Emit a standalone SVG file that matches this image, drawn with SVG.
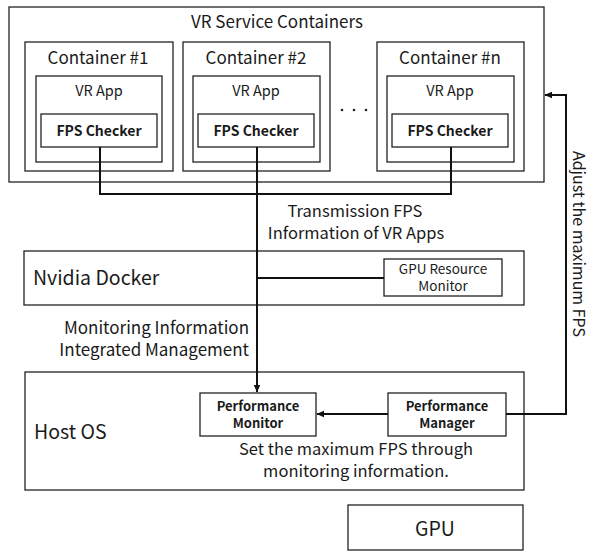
<svg xmlns="http://www.w3.org/2000/svg" width="590" height="555" viewBox="0 0 590 555">
  <defs>
    <style>
      .box { fill: #ffffff; stroke: #222222; stroke-width: 1.3; }
      .wire { fill: none; stroke: #111111; stroke-width: 2; }
      text { font-family: "Noto Sans CJK KR", "Noto Sans", sans-serif; fill: #1a1a1a; }
      .t17 { font-size: 17px; }
      .t15 { font-size: 14.5px; }
      .lbl { font-size: 16.5px; }
      .t20 { font-size: 19.5px; }
      .bold { font-size: 14px; font-weight: bold; }
      .pm { font-size: 13px; font-weight: bold; }
      .small { font-size: 13.5px; }
      .side { font-size: 16px; }
      .mid { text-anchor: middle; }
    </style>
    <marker id="arrow" markerWidth="8" markerHeight="8" refX="7" refY="4" orient="auto" markerUnits="userSpaceOnUse">
      <path d="M0,0.8 L7.5,4 L0,7.2 Z" fill="#111111"/>
    </marker>
  </defs>

  <rect width="590" height="555" fill="#ffffff"/>

  <!-- outer group of VR containers -->
  <g id="vr-service-containers">
    <rect class="box" x="9" y="7" width="535" height="175"/>
    <text class="t17 mid" x="277" y="28">VR Service Containers</text>
  </g>

  <g id="container-1">
    <rect class="box" x="25" y="42" width="148" height="129"/>
    <text class="t17 mid" x="98" y="64">Container #1</text>
    <rect class="box" x="36" y="76" width="126" height="86"/>
    <text class="t15 mid" x="99" y="96">VR App</text>
    <rect class="box" x="41" y="114" width="116" height="33"/>
    <text class="bold mid" x="99" y="136">FPS Checker</text>
  </g>

  <g id="container-2">
    <rect class="box" x="183" y="42" width="147" height="129"/>
    <text class="t17 mid" x="256" y="64">Container #2</text>
    <rect class="box" x="193" y="76" width="127" height="86"/>
    <text class="t15 mid" x="256" y="96">VR App</text>
    <rect class="box" x="198" y="114" width="116" height="33"/>
    <text class="bold mid" x="256" y="136">FPS Checker</text>
  </g>

  <g id="ellipsis">
    <circle cx="342" cy="110" r="1.3" fill="#222"/>
    <circle cx="354" cy="110" r="1.3" fill="#222"/>
    <circle cx="366" cy="110" r="1.3" fill="#222"/>
  </g>

  <g id="container-n">
    <rect class="box" x="377" y="42" width="147" height="129"/>
    <text class="t17 mid" x="450" y="64">Container #n</text>
    <rect class="box" x="387" y="76" width="127" height="86"/>
    <text class="t15 mid" x="450" y="96">VR App</text>
    <rect class="box" x="392" y="114" width="116" height="33"/>
    <text class="bold mid" x="450" y="136">FPS Checker</text>
  </g>

  <g id="nvidia-docker">
    <rect class="box" x="24" y="251" width="500" height="54"/>
    <text class="t20" x="33" y="285">Nvidia Docker</text>
  </g>

  <g id="gpu-resource-monitor">
    <rect class="box" x="384" y="259" width="118" height="37"/>
    <text class="small mid" x="443" y="274">GPU Resource</text>
    <text class="small mid" x="443" y="291">Monitor</text>
  </g>

  <g id="host-os">
    <rect class="box" x="25" y="372" width="499" height="118"/>
    <text class="t20" x="34" y="439">Host OS</text>
  </g>

  <g id="performance-monitor">
    <rect class="box" x="200" y="393" width="116" height="43"/>
    <text class="pm mid" x="258" y="411">Performance</text>
    <text class="pm mid" x="258" y="428">Monitor</text>
  </g>

  <g id="performance-manager">
    <rect class="box" x="388" y="393" width="118" height="43"/>
    <text class="pm mid" x="447" y="411">Performance</text>
    <text class="pm mid" x="447" y="428">Manager</text>
  </g>

  <g id="gpu">
    <rect class="box" x="348" y="505" width="175" height="45"/>
    <text class="t20 mid" x="435" y="536">GPU</text>
  </g>

  <!-- connectors -->
  <g id="connectors">
    <path class="wire" d="M100,147 V194 H451 V147"/>
    <path class="wire" d="M257,147 V392" marker-end="url(#arrow)"/>
    <path class="wire" d="M257,278 H384"/>
    <path class="wire" d="M388,414 H317" marker-end="url(#arrow)"/>
    <path class="wire" d="M506,414 H566 V95 H545" marker-end="url(#arrow)"/>
  </g>

  <!-- connector labels -->
  <g id="labels">
    <text class="lbl mid" x="355" y="217">Transmission FPS</text>
    <text class="lbl mid" x="356" y="239">Information of VR Apps</text>
    <text class="t17" x="249" y="334" text-anchor="end">Monitoring Information</text>
    <text class="t17" x="249" y="356" text-anchor="end">Integrated Management</text>
    <text class="lbl mid" x="356" y="455">Set the maximum FPS through</text>
    <text class="lbl mid" x="356" y="477">monitoring information.</text>
    <text class="side mid" transform="translate(573,244) rotate(90)">Adjust the maximum FPS</text>
  </g>
</svg>
